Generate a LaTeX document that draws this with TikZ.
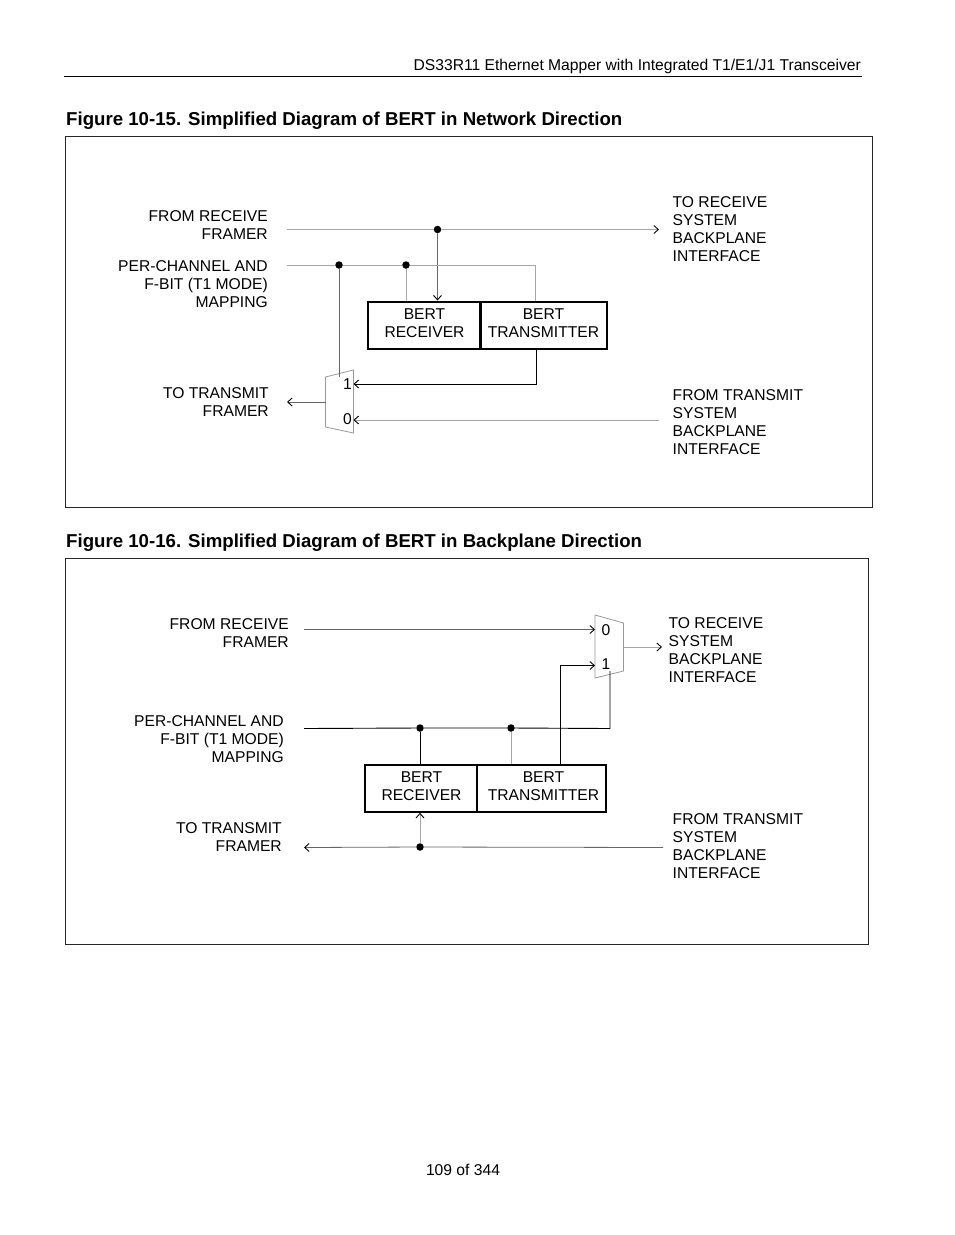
\documentclass[tikz,border=0pt]{standalone}
\usepackage{fontspec}
\setmainfont{Liberation Sans}
\usetikzlibrary{arrows.meta}
\tikzset{
  txt/.style={font=\fontsize{15.65}{18}\selectfont,inner sep=0pt,align=#1},
  txt/.default=left,
  headline/.style={font=\fontsize{18.65}{20}\selectfont\bfseries,inner sep=0pt,anchor=west},
  frame/.style={draw=black!85,line width=0.8pt},
  wire/.style={draw=black!35,line width=0.8pt},
  darkwire/.style={draw=black,line width=0.9pt},
  midwire/.style={draw=black!60,line width=0.8pt},
  bertbox/.style={draw,line width=2.3pt,inner sep=0pt},
  mux/.style={draw=black!40,line width=0.8pt},
  dot/.style={circle,fill,inner sep=0pt,minimum size=7.5pt},
  tip/.style={-{Straight Barb[length=4.5pt,width=8pt,black,line width=0.9pt]}},
}
\begin{document}
\begin{tikzpicture}[x=1pt,y=-1pt]
  \useasboundingbox (0,0) rectangle (954,1235);
  \fill[white] (0,0) rectangle (954,1235);
  % page furniture
  \node[txt,anchor=east] (head) at (861,66) {DS33R11 Ethernet Mapper with Integrated T1/E1/J1 Transceiver};
  \coordinate (rulea) at (64,76.5);
  \coordinate (ruleb) at (862,76.5);
  \draw[line width=0.9pt] (rulea) -- (ruleb);
  \node[txt] (foot) at (463,1170) {109 of 344};

  % first figure
  \node[headline] (titlea) at (66,121) {Figure 10-15. Simplified Diagram of BERT in Network Direction};
  \node[frame,minimum width=807pt,minimum height=371pt,inner sep=0pt,anchor=north west] (framea) at (65,136) {};

  \node[txt=right,anchor=east] (rxa) at (268,225) {FROM RECEIVE\\FRAMER};
  \node[txt=right,anchor=east] (pca) at (268,284.5) {PER-CHANNEL AND\\F-BIT (T1 MODE)\\MAPPING};
  \node[txt=right,anchor=east] (txa) at (269,402) {TO TRANSMIT\\FRAMER};
  \node[txt,anchor=west] (srxa) at (672.5,229.5) {TO RECEIVE\\SYSTEM\\BACKPLANE\\INTERFACE};
  \node[txt,anchor=west] (stxa) at (672.5,422) {FROM TRANSMIT\\SYSTEM\\BACKPLANE\\INTERFACE};

  \node[bertbox,minimum width=112pt,minimum height=47pt,anchor=north west] (recva) at (367,300.5) {};
  \node[bertbox,minimum width=126pt,minimum height=47pt,anchor=north west] (xmta) at (479.5,300.5) {};
  \node[txt=center] at (424.5,323) {BERT\\RECEIVER};
  \node[txt=center] at (543.5,323) {BERT\\TRANSMITTER};

  \coordinate (muxa1) at (325.5,377);
  \coordinate (muxa2) at (353.5,370);
  \coordinate (muxa3) at (353.5,433);
  \coordinate (muxa4) at (325.5,427);
  \draw[mux] (muxa1) -- (muxa2) -- (muxa3) -- (muxa4) -- cycle;
  \node[txt] (onea) at (347.5,384.5) {1};
  \node[txt] (zeroa) at (347.5,419.5) {0};

  \node[dot] (da) at (437.5,229.5) {};
  \node[dot] (db) at (339,265) {};
  \node[dot] (dc) at (406,265) {};
  \coordinate (ina) at (287,229.5);
  \coordinate (outa) at (659,229.5);
  \coordinate (inb) at (287,265);
  \coordinate (turna) at (535.5,265);
  \coordinate (turnb) at (536.5,384);
  \coordinate (inc) at (659,420);
  \coordinate (outb) at (287,402);

  \draw[wire,tip] (ina) -- (da) -- (outa);
  \draw[midwire,tip] (da) -- (da |- recva.north);
  \draw[wire] (inb) -- (db) -- (dc) -- (turna) -- (turna |- xmta.north);
  \draw[wire] (dc) -- (dc |- recva.north);
  \draw[midwire] (db) -- (db |- muxa1);
  \draw[darkwire,tip] (turnb |- xmta.south) -- (turnb) -- (muxa2 |- turnb);
  \draw[wire,tip] (inc) -- (muxa2 |- inc);
  \draw[midwire,tip] (muxa1 |- outb) -- (outb);

  % second figure
  \node[headline] (titleb) at (66,543) {Figure 10-16. Simplified Diagram of BERT in Backplane Direction};
  \node[frame,minimum width=803pt,minimum height=386pt,inner sep=0pt,anchor=north west] (frameb) at (64.5,558) {};

  \node[txt=right,anchor=east] (rxb) at (289,633) {FROM RECEIVE\\FRAMER};
  \node[txt=right,anchor=east] (pcb) at (284,739.5) {PER-CHANNEL AND\\F-BIT (T1 MODE)\\MAPPING};
  \node[txt=right,anchor=east] (txb) at (282,837) {TO TRANSMIT\\FRAMER};
  \node[txt,anchor=west] (srxb) at (668.5,650.5) {TO RECEIVE\\SYSTEM\\BACKPLANE\\INTERFACE};
  \node[txt,anchor=west] (stxb) at (672.5,846) {FROM TRANSMIT\\SYSTEM\\BACKPLANE\\INTERFACE};

  \node[bertbox,minimum width=112pt,minimum height=47pt,anchor=north west] (recvb) at (363.5,763.5) {};
  \node[bertbox,minimum width=129pt,minimum height=47pt,anchor=north west] (xmtb) at (476,763.5) {};
  \node[txt=center] at (421.5,786) {BERT\\RECEIVER};
  \node[txt=center] at (543.5,786) {BERT\\TRANSMITTER};

  \coordinate (muxb1) at (595,615);
  \coordinate (muxb2) at (623.5,623);
  \coordinate (muxb3) at (623.5,671);
  \coordinate (muxb4) at (595,678);
  \draw[mux] (muxb1) -- (muxb2) -- (muxb3) -- (muxb4) -- cycle;
  \node[txt] (zerob) at (606,630) {0};
  \node[txt] (oneb) at (606,664.5) {1};

  \node[dot] (dd) at (420,728) {};
  \node[dot] (de) at (511,728) {};
  \node[dot] (df) at (420,847) {};
  \coordinate (inp) at (304,629.5);
  \coordinate (inq) at (304,728.5);
  \coordinate (turnc) at (610,728.5);
  \coordinate (turnd) at (560.5,665.5);
  \coordinate (outc) at (662,647);
  \coordinate (inr) at (663,847.5);
  \coordinate (outd) at (304,847.5);

  \draw[midwire,tip] (inp) -- (muxb1 |- inp);
  \draw[wire,tip] (muxb2 |- outc) -- (outc);
  \draw[darkwire] (inq) -- (dd) -- (de) -- (turnc) -- (turnc |- muxb3);
  \draw[darkwire] (dd) -- (dd |- recvb.north);
  \draw[wire] (de) -- (de |- xmtb.north);
  \draw[darkwire,tip] (turnd |- xmtb.north) -- (turnd) -- (muxb4 |- turnd);
  \draw[midwire,tip] (inr) -- (df) -- (outd);
  \draw[wire,tip] (df) -- (df |- recvb.south);
\end{tikzpicture}
\end{document}
